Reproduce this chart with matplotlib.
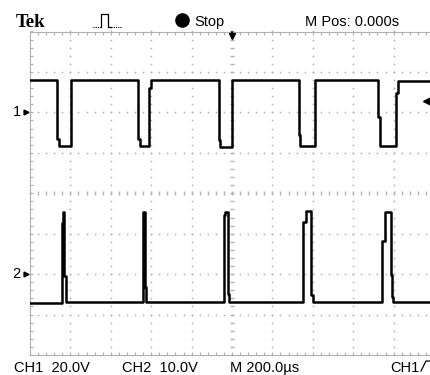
import matplotlib
matplotlib.use("Agg")
import matplotlib.pyplot as plt
import numpy as np

# scope settings
time_per_div = 200.0      # us/div
ch1_volts_per_div = 20.0
ch2_volts_per_div = 10.0
ch1_ground_div = 2.0      # ground marker position, divisions from centre
ch2_ground_div = -2.0
trigger_level = 5.4       # V on CH1

# CH1 trace (time in us, volts)
ch1_t = [-1000, -865, -865, -856, -856, -798, -798, -464, -464, -455, -455, -409, -409, -401, -401,
         -64, -64, -59, -59, 0, 0, 332, 332, 338, 338, 411, 411,
         724, 724, 732, 732, 810, 810, 822, 822, 1000]
ch1_v = [16, 16, -13, -13, -16.6, -16.6, 16, 16, -13, -13, -16.6, -16.6, 11.9, 11.9, 16,
         16, -13.5, -13.5, -17.2, -17.2, 16, 16, -11.4, -11.4, -16.6, -16.6, 16,
         16, -2.5, -2.5, -16.8, -16.8, 9.4, 9.4, 15.3, 15.3]

# CH2 trace (time in us, volts)
ch2_t = [-1000, -843, -843, -835, -835, -830, -830, -823, -823,
         -442, -442, -431, -431, -426, -426,
         -40, -40, -35, -35, -21, -21, -15, -15,
         353, 353, 365, 365, 390, 390, 401, 401,
         744, 744, 757, 757, 786, 786, 790, 790, 796, 796, 1000]
ch2_v = [-7.2, -7.2, 12.6, 12.6, 15.4, 15.4, -0.5, -0.5, -7.0,
         -7.0, 15.4, 15.4, -3.3, -3.3, -7.0,
         -7.0, 14.6, 14.6, 15.4, 15.4, -4.8, -4.8, -7.0,
         -7.0, 12.9, 12.9, 15.6, 15.6, -5.2, -5.2, -7.0,
         -7.0, 8.2, 8.2, 15.4, 15.4, -0.3, -0.3, -5.6, -5.6, -7.0, -7.0]

W, H = 430, 375
GRID = "#b0b0b0"
SANS = ["Liberation Sans Narrow", "Liberation Sans"]
FS = 10.5


def fx(px):
    return px / W


def fy(py):
    return 1 - py / H


fig = plt.figure(figsize=(W / 100, H / 100), dpi=100)
fig.patch.set_facecolor("white")

# screen area: 10 x 8 divisions, right edge is cut off by the image
ax = fig.add_axes([fx(30), fy(355), (434 - 30) / W, (355 - 31.5) / H])
ax.set_xlim(-5 * time_per_div, 5 * time_per_div)
ax.set_ylim(-4, 4)
ax.axis("off")

# graticule
xs_minor = np.arange(-5, 5.001, 0.2) * time_per_div
ys_minor = np.arange(-4, 4.001, 0.2)
for xd in range(-4, 5):
    if xd == 0:
        continue
    ax.plot(np.full(len(ys_minor), xd * time_per_div), ys_minor, ls="none", marker="s",
            ms=1.1, mew=0, color=GRID, clip_on=False)
for yd in range(-3, 4):
    if yd == 0:
        continue
    ax.plot(xs_minor, np.full(len(xs_minor), yd), ls="none", marker="s",
            ms=1.1, mew=0, color=GRID, clip_on=False)
# centre lines with tick marks
ax.plot(np.zeros(len(ys_minor)), ys_minor, ls="none", marker="_", ms=3.5, mew=1,
        color=GRID, clip_on=False)
ax.plot(xs_minor, np.zeros(len(xs_minor)), ls="none", marker="|", ms=3.5, mew=1,
        color=GRID, clip_on=False)
# border
ax.plot([-5 * time_per_div] * 2, [-4, 4], color=GRID, lw=0.8, clip_on=False)
ax.plot([-5 * time_per_div, 5 * time_per_div], [4, 4], color=GRID, lw=0.8, clip_on=False)
ax.plot([-5 * time_per_div, 5 * time_per_div], [-4, -4], color=GRID, lw=0.8, clip_on=False)
ax.plot(np.full(len(ys_minor), -5 * time_per_div), ys_minor, ls="none", marker=1, ms=2.5,
        mew=0.8, color=GRID, clip_on=False)
ax.plot(xs_minor, np.full(len(xs_minor), 4), ls="none", marker=3, ms=2.5,
        mew=0.8, color=GRID, clip_on=False)
ax.plot(xs_minor, np.full(len(xs_minor), -4), ls="none", marker=2, ms=2.5,
        mew=0.8, color=GRID, clip_on=False)

# traces
ax.plot(ch1_t, np.array(ch1_v) / ch1_volts_per_div + ch1_ground_div, color="black", lw=1.8)
ax.plot(ch2_t, np.array(ch2_v) / ch2_volts_per_div + ch2_ground_div, color="black", lw=1.8)

# channel ground markers
ytr = ax.get_yaxis_transform()
for label, gnd in [("1", ch1_ground_div), ("2", ch2_ground_div)]:
    ax.plot([-0.01], [gnd], marker=">", ms=3.5, color="black", transform=ytr, clip_on=False)
    ax.text(-0.033, gnd, label, transform=ytr, ha="center", va="center",
            fontsize=FS, family=SANS)

# trigger level and trigger position markers
ax.plot([0.984], [trigger_level / ch1_volts_per_div + ch1_ground_div], marker="<", ms=7,
        color="black", transform=ytr, clip_on=False)
xtr = ax.get_xaxis_transform()
ax.plot([0, 0], [1.0, 0.985], color="black", lw=1.2, transform=xtr, clip_on=False)
ax.plot([0], [0.985], marker="v", ms=5, color="black", transform=xtr, clip_on=False)

# header
fig.text(fx(16), fy(27), "Tek", family=["Liberation Serif", "DejaVu Serif"], weight="bold",
         fontsize=13.5, va="baseline")
fig.lines.append(plt.Line2D([fx(93), fx(101)], [fy(26.5), fy(26.5)], ls=(0, (1, 1)), lw=0.8,
                            color="black", transform=fig.transFigure))
fig.lines.append(plt.Line2D([fx(101), fx(101), fx(108), fx(108), fx(111)],
                            [fy(26.5), fy(14), fy(14), fy(26.5), fy(26.5)], lw=0.9,
                            color="black", transform=fig.transFigure))
fig.lines.append(plt.Line2D([fx(111), fx(122)], [fy(26.5), fy(26.5)], ls=(0, (1, 1)), lw=0.8,
                            color="black", transform=fig.transFigure))
fig.lines.append(plt.Line2D([fx(182)], [fy(20)], marker="o", ms=9.5, color="black",
                            transform=fig.transFigure))
fig.text(fx(194), fy(26), "Stop", family=SANS, fontsize=FS, va="baseline")
fig.text(fx(305), fy(26), "M Pos: 0.000s", family=SANS, fontsize=FS, va="baseline")

# footer
fig.text(fx(14), fy(372), "CH1  20.0V", family=SANS, fontsize=FS, va="baseline")
fig.text(fx(122), fy(372), "CH2  10.0V", family=SANS, fontsize=FS, va="baseline")
fig.text(fx(230), fy(372), "M 200.0\u00b5s", family=SANS, fontsize=FS, va="baseline")
fig.text(fx(390), fy(372), "CH1", family=SANS, fontsize=FS, va="baseline")
fig.lines.append(plt.Line2D([fx(421), fx(426), fx(430)], [fy(371), fy(361), fy(361)], lw=0.9,
                            color="black", transform=fig.transFigure))

fig.savefig("out.png", dpi=100)
